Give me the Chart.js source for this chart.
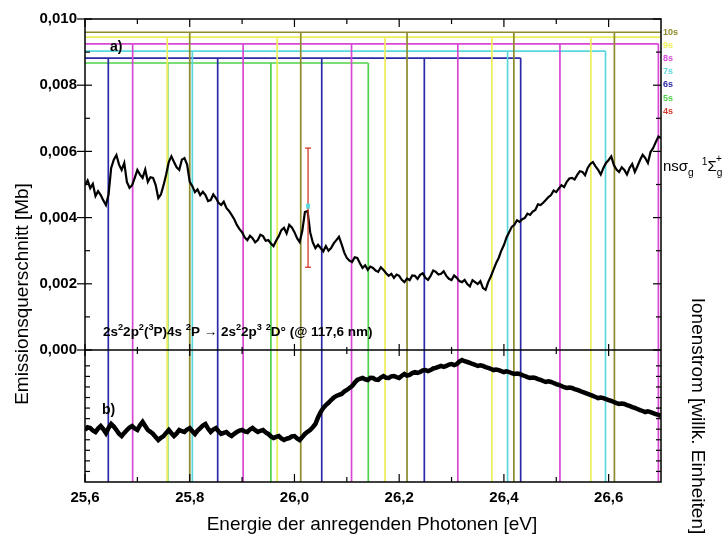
<!DOCTYPE html>
<html>
<head>
<meta charset="utf-8">
<script src="https://cdn.jsdelivr.net/npm/chart.js@4/dist/chart.umd.min.js"></script>
<style>
  html, body { margin: 0; padding: 0; background: #fff; }
  #wrap { width: 726px; height: 538px; position: relative; }
</style>
</head>
<body>
<div id="wrap"><canvas id="c" width="726" height="538"></canvas></div>
<script>
// Photon energy grid [eV]
const ENERGY_EV = [
  25.600,25.605,25.610,25.615,25.620,25.625,25.630,25.635,25.640,25.645,
  25.650,25.655,25.660,25.665,25.670,25.675,25.680,25.685,25.690,25.695,
  25.700,25.705,25.710,25.715,25.720,25.725,25.730,25.735,25.740,25.745,
  25.750,25.755,25.760,25.765,25.770,25.775,25.780,25.785,25.790,25.795,
  25.800,25.805,25.810,25.815,25.820,25.825,25.830,25.835,25.840,25.845,
  25.850,25.855,25.860,25.865,25.870,25.875,25.880,25.885,25.890,25.895,
  25.900,25.905,25.910,25.915,25.920,25.925,25.930,25.935,25.940,25.945,
  25.950,25.955,25.960,25.965,25.970,25.975,25.980,25.985,25.990,25.995,
  26.000,26.005,26.010,26.015,26.020,26.025,26.030,26.035,26.040,26.045,
  26.050,26.055,26.060,26.065,26.070,26.075,26.080,26.085,26.090,26.095,
  26.100,26.105,26.110,26.115,26.120,26.125,26.130,26.135,26.140,26.145,
  26.150,26.155,26.160,26.165,26.170,26.175,26.180,26.185,26.190,26.195,
  26.200,26.205,26.210,26.215,26.220,26.225,26.230,26.235,26.240,26.245,
  26.250,26.255,26.260,26.265,26.270,26.275,26.280,26.285,26.290,26.295,
  26.300,26.305,26.310,26.315,26.320,26.325,26.330,26.335,26.340,26.345,
  26.350,26.355,26.360,26.365,26.370,26.375,26.380,26.385,26.390,26.395,
  26.400,26.405,26.410,26.415,26.420,26.425,26.430,26.435,26.440,26.445,
  26.450,26.455,26.460,26.465,26.470,26.475,26.480,26.485,26.490,26.495,
  26.500,26.505,26.510,26.515,26.520,26.525,26.530,26.535,26.540,26.545,
  26.550,26.555,26.560,26.565,26.570,26.575,26.580,26.585,26.590,26.595,
  26.600,26.605,26.610,26.615,26.620,26.625,26.630,26.635,26.640,26.645,
  26.650,26.655,26.660,26.665,26.670,26.675,26.680,26.685,26.690,26.695,
  26.700
];

// Emission cross section of the N I 117,6 nm line [Mb]
const EMISSION_MB = [
  0.00498,0.00512,0.00489,0.00502,0.00465,0.00480,0.00468,0.00452,0.00438,0.00470,
  0.00550,0.00575,0.00589,0.00560,0.00544,0.00565,0.00508,0.00490,0.00498,0.00520,
  0.00544,0.00530,0.00520,0.00545,0.00508,0.00522,0.00520,0.00498,0.00459,0.00470,
  0.00498,0.00530,0.00568,0.00585,0.00568,0.00552,0.00544,0.00575,0.00580,0.00560,
  0.00508,0.00495,0.00477,0.00485,0.00468,0.00478,0.00468,0.00450,0.00453,0.00470,
  0.00459,0.00445,0.00438,0.00448,0.00429,0.00420,0.00408,0.00395,0.00378,0.00365,
  0.00356,0.00340,0.00332,0.00345,0.00338,0.00325,0.00332,0.00348,0.00344,0.00330,
  0.00332,0.00322,0.00314,0.00330,0.00344,0.00362,0.00369,0.00352,0.00378,0.00370,
  0.00356,0.00338,0.00326,0.00360,0.00417,0.00420,0.00356,0.00325,0.00308,0.00318,
  0.00308,0.00298,0.00314,0.00300,0.00308,0.00322,0.00332,0.00342,0.00320,0.00295,
  0.00278,0.00270,0.00266,0.00280,0.00278,0.00262,0.00248,0.00256,0.00242,0.00252,
  0.00248,0.00240,0.00236,0.00250,0.00242,0.00232,0.00224,0.00230,0.00218,0.00228,
  0.00224,0.00212,0.00205,0.00216,0.00211,0.00225,0.00224,0.00215,0.00227,0.00232,
  0.00218,0.00212,0.00224,0.00240,0.00236,0.00228,0.00230,0.00238,0.00224,0.00215,
  0.00211,0.00225,0.00218,0.00208,0.00205,0.00212,0.00199,0.00192,0.00211,0.00205,
  0.00199,0.00208,0.00187,0.00182,0.00205,0.00222,0.00242,0.00262,0.00278,0.00300,
  0.00317,0.00340,0.00356,0.00372,0.00378,0.00392,0.00387,0.00395,0.00399,0.00412,
  0.00408,0.00418,0.00423,0.00440,0.00438,0.00445,0.00453,0.00462,0.00468,0.00482,
  0.00477,0.00488,0.00498,0.00492,0.00508,0.00518,0.00520,0.00515,0.00529,0.00540,
  0.00538,0.00528,0.00550,0.00562,0.00568,0.00555,0.00544,0.00530,0.00550,0.00565,
  0.00574,0.00585,0.00559,0.00545,0.00538,0.00552,0.00544,0.00530,0.00550,0.00562,
  0.00538,0.00555,0.00574,0.00590,0.00580,0.00565,0.00598,0.00610,0.00628,0.00645,
  0.00640
];

// Ion current [arb. units]
const ION_CURRENT = [
  0.394,0.415,0.409,0.390,0.379,0.405,0.424,0.400,0.371,0.410,
  0.439,0.420,0.394,0.365,0.348,0.372,0.394,0.412,0.424,0.405,
  0.394,0.430,0.455,0.425,0.394,0.380,0.364,0.340,0.318,0.335,
  0.348,0.372,0.394,0.370,0.348,0.368,0.394,0.385,0.379,0.398,
  0.409,0.385,0.364,0.390,0.409,0.428,0.439,0.405,0.379,0.398,
  0.409,0.385,0.364,0.372,0.379,0.360,0.348,0.365,0.379,0.390,
  0.394,0.383,0.379,0.398,0.409,0.392,0.379,0.388,0.394,0.375,
  0.364,0.345,0.333,0.342,0.348,0.330,0.318,0.328,0.333,0.345,
  0.348,0.330,0.318,0.340,0.364,0.380,0.394,0.415,0.439,0.490,
  0.530,0.560,0.583,0.600,0.621,0.640,0.652,0.660,0.667,0.685,
  0.697,0.712,0.727,0.752,0.773,0.782,0.788,0.778,0.773,0.790,
  0.788,0.776,0.773,0.792,0.803,0.790,0.788,0.800,0.803,0.795,
  0.788,0.805,0.818,0.806,0.811,0.825,0.833,0.826,0.833,0.845,
  0.848,0.840,0.848,0.860,0.864,0.872,0.879,0.872,0.879,0.890,
  0.894,0.886,0.894,0.912,0.924,0.915,0.909,0.902,0.894,0.888,
  0.879,0.884,0.879,0.870,0.864,0.858,0.848,0.852,0.848,0.840,
  0.833,0.838,0.833,0.824,0.818,0.822,0.818,0.810,0.803,0.795,
  0.788,0.792,0.788,0.780,0.773,0.765,0.758,0.762,0.758,0.750,
  0.742,0.735,0.727,0.718,0.712,0.716,0.712,0.704,0.697,0.690,
  0.682,0.675,0.667,0.660,0.652,0.644,0.636,0.640,0.636,0.628,
  0.621,0.614,0.606,0.598,0.591,0.595,0.591,0.583,0.576,0.568,
  0.561,0.553,0.545,0.538,0.530,0.535,0.530,0.522,0.515,0.508,
  0.500
];

// Single measured point with its uncertainty
const ERR_ENERGY = [26.026];
const ERR_VALUE = [0.0043];
const ERR_SIGMA = [0.0018];

// Rydberg series n s sigma_g (1Sigma_g+): line positions per n [eV]
const SERIES_NAMES = ['4s', '5s', '6s', '7s', '8s', '9s', '10s'];
const POS_5S  = [25.758, 25.955, 26.141];
const POS_6S  = [25.6445, 25.8534, 26.0521, 26.248, 26.432];
const POS_7S  = [25.805, 26.407, 26.594];
const POS_8S  = [25.691, 25.902, 26.109, 26.312, 26.507, 26.695];
const POS_9S  = [25.757, 25.967, 26.173, 26.377, 26.566];
const POS_10S = [25.80, 26.012, 26.215, 26.419, 26.611];
// height of the bar that ties each series together [Mb]
const SERIES_LEVEL = { '5s': 0.00867, '6s': 0.00882, '7s': 0.00903, '8s': 0.00925, '9s': 0.00945, '10s': 0.00960 };

// axis ranges and ticks
const X_MIN = 25.6, X_MAX = 26.7;
const X_MAJOR = [25.6, 25.8, 26.0, 26.2, 26.4, 26.6];
const X_MINOR = [25.7, 25.9, 26.1, 26.3, 26.5];
const Y_MAX = 0.010;
const Y_MIN = -0.003988;          // room for the ion-current panel below 0
const Y_MAJOR = [0, 0.002, 0.004, 0.006, 0.008, 0.010];
const Y_MINOR = [0.001, 0.003, 0.005, 0.007, 0.009];
const ION_MAX = (Y_MAX - Y_MIN) / (-Y_MIN);   // ion value 1 sits on the panel divider
const ION_TICKS = [0.08, 0.16, 0.24, 0.32, 0.40, 0.48, 0.56, 0.64, 0.72, 0.80, 0.88];

const COLORS = {
  '4s': '#d23a2a', '5s': '#4fd24a', '6s': '#2a2aa8', '7s': '#5ad8dc',
  '8s': '#d848d4', '9s': '#eeee5a', '10s': '#8e8a2e'
};

const FONT = '"Liberation Sans", Arial, sans-serif';

function seriesData(positions, level, xEnd) {
  const pts = [{ x: X_MIN, y: level }, { x: xEnd, y: level }];
  for (const p of positions) {
    pts.push({ x: p, y: null });
    pts.push({ x: p, y: Y_MIN });
    pts.push({ x: p, y: level });
  }
  return pts;
}

const seriesDefs = [
  ['10s', POS_10S, X_MAX],
  ['9s', POS_9S, X_MAX],
  ['8s', POS_8S, POS_8S[POS_8S.length - 1]],
  ['7s', POS_7S, POS_7S[POS_7S.length - 1]],
  ['6s', POS_6S, POS_6S[POS_6S.length - 1]],
  ['5s', POS_5S, POS_5S[POS_5S.length - 1]]
];

const seriesSets = seriesDefs.map(([name, pos, xEnd]) => ({
  label: name,
  data: seriesData(pos, SERIES_LEVEL[name], xEnd),
  yAxisID: 'y',
  borderColor: COLORS[name],
  borderWidth: 1.7,
  pointRadius: 0,
  spanGaps: false,
  tension: 0
}));

const emissionSet = {
  label: 'Emission',
  data: ENERGY_EV.map((e, i) => ({ x: e, y: EMISSION_MB[i] })),
  yAxisID: 'y',
  borderColor: '#000',
  borderWidth: 2.2,
  pointRadius: 0,
  tension: 0
};
const ionSet = {
  label: 'Ionenstrom',
  data: ENERGY_EV.map((e, i) => ({ x: e, y: ION_CURRENT[i] })),
  yAxisID: 'yIon',
  borderColor: '#000',
  borderWidth: 4.5,
  pointRadius: 0,
  tension: 0
};

function fmt(v, d) { return v.toFixed(d).replace('.', ','); }

// draws a run of text pieces; pieces marked sup/sub are shifted and smaller
function richText(ctx, x, y, pieces, size, weight) {
  let cx = x;
  for (const p of pieces) {
    const s = p.sup || p.sub ? size * 0.68 : size;
    ctx.font = `${weight} ${s}px ${FONT}`;
    const dy = p.sup ? -size * 0.42 : (p.sub ? size * 0.3 : 0);
    ctx.fillText(p.t, cx, y + dy);
    cx += ctx.measureText(p.t).width + (p.gap || 0);
  }
  return cx;
}

const decor = {
  id: 'decor',
  afterDatasetsDraw(chart) {
    const { ctx, chartArea: a, scales } = chart;
    const x = scales.x, y = scales.y, yi = scales.yIon;
    const y0 = y.getPixelForValue(0);
    ctx.save();
    const seg = (x1, y1, x2, y2) => { ctx.beginPath(); ctx.moveTo(x1, y1); ctx.lineTo(x2, y2); ctx.stroke(); };

    // error bar
    ctx.strokeStyle = COLORS['4s'];
    ctx.lineWidth = 1.3;
    ERR_ENERGY.forEach((e, i) => {
      const px = x.getPixelForValue(e);
      const top = y.getPixelForValue(ERR_VALUE[i] + ERR_SIGMA[i]);
      const bot = y.getPixelForValue(ERR_VALUE[i] - ERR_SIGMA[i]);
      seg(px, top, px, bot);
      seg(px - 3, top, px + 3, top);
      seg(px - 3, bot, px + 3, bot);
      ctx.fillStyle = COLORS['7s'];
      ctx.fillRect(px - 2, y.getPixelForValue(ERR_VALUE[i]) - 4, 4, 5);
    });

    // frame and divider
    ctx.strokeStyle = '#000';
    ctx.lineWidth = 1.5;
    ctx.strokeRect(a.left, a.top, a.right - a.left, a.bottom - a.top);
    seg(a.left, y0, a.right, y0);

    ctx.lineWidth = 1.2;
    // x ticks: top (down), bottom (up), divider (both)
    X_MAJOR.concat(X_MINOR).forEach(v => {
      const px = x.getPixelForValue(v);
      const major = X_MAJOR.includes(v);
      const L = major ? 8 : 5;
      seg(px, a.top, px, a.top + L);
      seg(px, a.bottom, px, a.bottom - L);
      seg(px, y0 - (major ? 6 : 3), px, y0 + (major ? 6 : 4));
    });
    // upper-panel y ticks, both sides
    Y_MAJOR.concat(Y_MINOR).forEach(v => {
      const py = y.getPixelForValue(v);
      const major = Y_MAJOR.includes(v);
      seg(a.left - (major ? 8 : 0), py, a.left + (major ? 7 : 5), py);
      seg(a.right, py, a.right - (major ? 8 : 5), py);
    });
    // lower-panel ticks
    ION_TICKS.forEach(v => {
      const py = yi.getPixelForValue(v);
      seg(a.left, py, a.left + 5, py);
      seg(a.right, py, a.right - 5, py);
    });

    // series legend at the right edge
    const legendY = { '10s': 33, '9s': 46, '8s': 59, '7s': 72, '6s': 85, '5s': 99, '4s': 112 };
    ctx.textBaseline = 'middle';
    ctx.textAlign = 'left';
    ctx.font = `bold 9px ${FONT}`;
    SERIES_NAMES.slice().reverse().forEach(n => {
      ctx.fillStyle = COLORS[n];
      ctx.fillText(n, a.right + 2, legendY[n]);
    });

    // panel labels and annotations
    ctx.fillStyle = '#000';
    ctx.textBaseline = 'alphabetic';
    ctx.font = `bold 14px ${FONT}`;
    ctx.fillText('a)', a.left + 25, a.top + 32);
    ctx.fillText('b)', a.left + 17, 414);

    richText(ctx, a.left + 18, y0 - 14, [
      { t: '2s' }, { t: '2', sup: 1 }, { t: '2p' }, { t: '2', sup: 1 }, { t: '(' }, { t: '3', sup: 1 },
      { t: 'P)4s ' }, { t: '2', sup: 1 }, { t: 'P \u2192 2s' }, { t: '2', sup: 1 }, { t: '2p' },
      { t: '3', sup: 1 }, { t: ' ' }, { t: '2', sup: 1 }, { t: 'D\u00b0 (@ 117,6 nm)' }
    ], 13.5, 'bold');

    richText(ctx, a.right + 2, 171, [
      { t: 'ns\u03c3' }, { t: 'g', sub: 1, gap: 8 }, { t: '1', sup: 1 }, { t: '\u03a3' }, { t: 'g', sub: 1 }
    ], 15, 'normal');
    ctx.font = `10px ${FONT}`;
    ctx.fillText('+', a.right + 55, 162);

    // axis titles
    ctx.font = `19px ${FONT}`;
    ctx.textAlign = 'center';
    ctx.textBaseline = 'middle';
    ctx.fillText('Energie der anregenden Photonen [eV]', 372, 525);
    ctx.save();
    ctx.translate(23, 294);
    ctx.rotate(-Math.PI / 2);
    ctx.fillText('Emissionsquerschnitt [Mb]', 0, 0);
    ctx.restore();
    ctx.save();
    ctx.translate(697, 416);
    ctx.rotate(Math.PI / 2);
    ctx.fillText('Ionenstrom [willk. Einheiten]', 0, 0);
    ctx.restore();

    ctx.restore();
  }
};

new Chart(document.getElementById('c'), {
  type: 'line',
  data: { datasets: [emissionSet, ionSet, ...seriesSets] },
  options: {
    responsive: false,
    devicePixelRatio: 1,
    animation: false,
    events: [],
    layout: { padding: { top: 19, right: 65, left: 0, bottom: 0 } },
    plugins: { legend: { display: false }, tooltip: { enabled: false } },
    scales: {
      x: {
        type: 'linear', min: X_MIN, max: X_MAX,
        afterBuildTicks: s => { s.ticks = X_MAJOR.map(v => ({ value: v })); },
        afterFit: s => { s.height = 56; },
        grid: { display: false, drawTicks: false },
        border: { display: false },
        ticks: {
          padding: 7, color: '#000', maxRotation: 0, autoSkip: false,
          font: { family: FONT, size: 15, weight: 'bold' },
          callback: v => fmt(v, 1)
        }
      },
      y: {
        type: 'linear', min: Y_MIN, max: Y_MAX, position: 'left',
        afterBuildTicks: s => { s.ticks = Y_MAJOR.map(v => ({ value: v })); },
        afterFit: s => { s.width = 85; },
        grid: { display: false, drawTicks: false },
        border: { display: false },
        ticks: {
          padding: 8, color: '#000', autoSkip: false,
          font: { family: FONT, size: 15, weight: 'bold' },
          callback: v => fmt(v, 3)
        }
      },
      yIon: { type: 'linear', min: 0, max: ION_MAX, display: false }
    }
  },
  plugins: [decor]
});
</script>
</body>
</html>
